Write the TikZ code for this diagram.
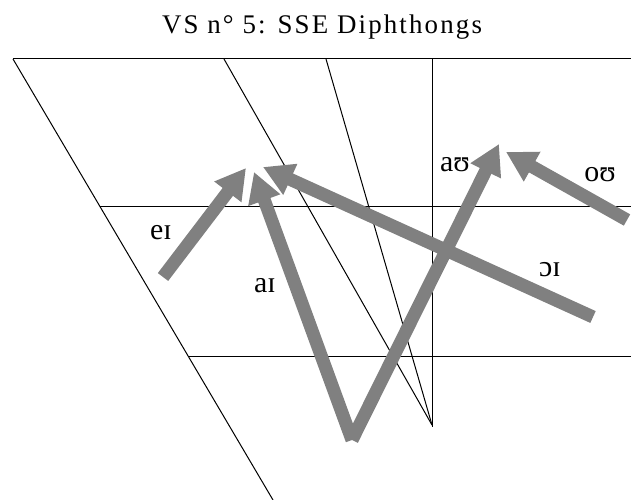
\documentclass[tikz,border=0pt]{standalone}
\usepackage{fontspec}
\setmainfont{Liberation Serif}
\newfontfamily\titlefont[LetterSpace=8]{Liberation Serif}
\usepackage{tikz}
\usetikzlibrary{arrows.meta}
\colorlet{glidegray}{black!50}

\begin{document}
\begin{tikzpicture}[x=1bp,y=-1bp,
    chart/.style={line width=1bp},
    glide/.style={draw=glidegray,line width=13bp,-{Triangle[width=32bp,length=30bp]}},
    vowel/.style={anchor=base,inner sep=0pt,font=\fontsize{30}{30}\selectfont}]

      \useasboundingbox (0,0) rectangle (631,500);

      \node [anchor=base,inner sep=0pt,font=\titlefont\fontsize{27}{27}\selectfont] (title) at (322,34) {VS n° 5: SSE Diphthongs};

      % vowel chart
      \coordinate (frontTop) at (13,59);
      \coordinate (frontLow) at (273,500);
      \coordinate (backTop) at (631,59);
      \coordinate (centreTop) at (224,59);
      \coordinate (midTop) at (326,59);
      \coordinate (axisTop) at (432,59);
      \coordinate (axisLow) at (432,427);
      \coordinate (meet) at (432,425);

      \draw [chart] (frontTop) -- (backTop);
      \draw [chart] (frontTop) -- (frontLow);
      \draw [chart] (100,207) -- (631,207);
      \draw [chart] (188,356) -- (631,356);
      \draw [chart] (axisTop) -- (axisLow);
      \draw [chart] (centreTop) -- (meet);
      \draw [chart] (midTop) -- (meet);

      % diphthong glides
      \coordinate (eiStart) at (163,277);
      \coordinate (eiEnd) at (246,168);
      \coordinate (aStart) at (352,440);
      \coordinate (aiEnd) at (254,172);
      \coordinate (auEnd) at (499,144);
      \coordinate (ouStart) at (627,220);
      \coordinate (ouEnd) at (506,152);
      \coordinate (oiStart) at (593,317);
      \coordinate (oiEnd) at (263,167);

      \draw [glide] (eiStart) -- (eiEnd);
      \draw [glide] (oiStart) -- (oiEnd);
      \draw [glide] (aStart) -- (aiEnd);
      \draw [glide] (aStart) -- (auEnd);
      \draw [glide] (ouStart) -- (ouEnd);

      \node [vowel] (ei) at (161,240) {eɪ};
      \node [vowel] (ai) at (265,292) {aɪ};
      \node [vowel] (au) at (455,172) {aʊ};
      \node [vowel] (ou) at (600,182) {oʊ};
      \node [vowel] (oi) at (550,276) {ɔɪ};

\end{tikzpicture}
\end{document}
